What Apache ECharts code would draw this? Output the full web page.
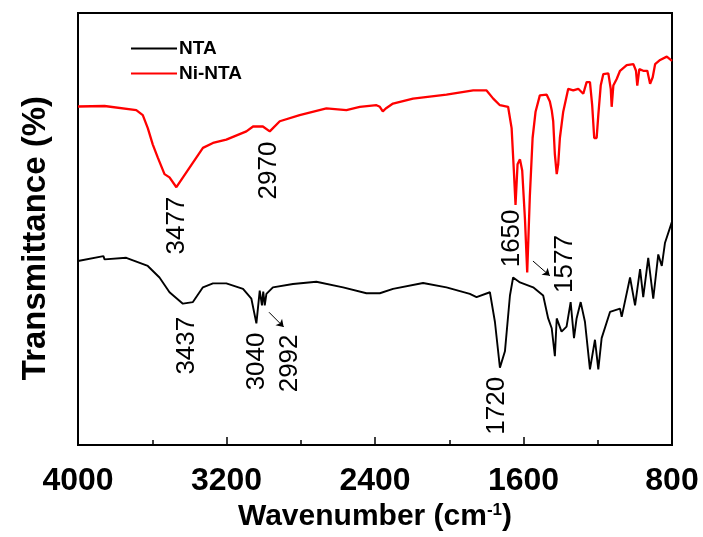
<!DOCTYPE html>
<html>
<head>
<meta charset="utf-8">
<script src="https://cdn.jsdelivr.net/npm/echarts@6/dist/echarts.min.js"></script>
<style>html,body{margin:0;padding:0;background:#fff}#c{width:703px;height:537px}</style>
</head>
<body>
<div id="c"></div>
<script>
// Wavenumber (cm-1) and transmittance (arbitrary units)
const ntaWn = [4000,3863,3857,3740,3624,3561,3507,3435,3381,3327,3273,3201,3111,3066,3039,3021,3009,3002,2994,2985,2950,2842,2716,2572,2446,2374,2303,2141,2015,1889,1853,1781,1754,1727,1700,1673,1656,1619,1548,1494,1467,1448,1431,1421,1395,1368,1346,1328,1314,1292,1269,1242,1215,1197,1179,1134,1080,1071,1026,999,972,955,928,901,874,855,838,800];
const ntaT  = [187,192,188.7,190.3,182,170.3,155.3,143.7,145.3,160.3,164.3,164.3,158.7,148.7,123.7,157,142,156,142,153.7,160.3,163.7,166,160.3,154.3,154.3,158.7,164.7,160.3,153.7,150.3,155.3,125.3,78.7,95.3,152,170.3,165.3,160.3,152,128.7,118.7,90.3,128.7,115.3,120.3,145.3,108.7,128.7,145.3,125.3,77,107,77,108.7,135.3,138.7,130.3,170.3,142,178.7,150.3,190.3,148.7,193.7,182,205.3,227];

const niWn = [4000,3857,3686,3651,3624,3597,3570,3534,3507,3470,3399,3327,3273,3201,3093,3057,3004,2967,2913,2806,2662,2554,2482,2392,2374,2358,2342,2303,2195,2015,1871,1799,1763,1727,1683,1664,1652,1643,1632,1619,1607,1592,1580,1566,1551,1535,1512,1475,1458,1448,1440,1431,1421,1413,1404,1386,1359,1332,1305,1296,1278,1260,1242,1230,1219,1206,1197,1184,1170,1143,1130,1125,1116,1098,1080,1044,1008,994,987,976,955,933,918,904,891,864,828,800];
const niT  = [344,344.5,340.3,335.3,322,305.3,292,275.3,272,262,282,302,307,310.3,318.7,323.7,323.7,318.7,329,335.3,342,340.3,343.7,345.3,343.7,339,342,347,352,356,360.3,360.3,352,345.3,343.7,322,279,244,285.3,290.3,279,229,175.3,252,312,338.7,355.3,356,349,340.3,329,295.3,275.3,285.3,312,338.7,362,360.3,362,363.7,357,368.7,368.7,345.3,312,312,335.3,365.3,377,377.7,362,343.7,365.3,372,380.3,386,387,380.3,365.3,382,380.3,380.3,367,373.7,387,391.3,394.7,390.3];

const seriesNames = ['NTA','Ni-NTA'];
const xTicks = [4000,3200,2400,1600,800];

// peak annotations: label, wavenumber, value position
const ntaLabels = ['3437','3040','2992','1720'];
const ntaLabelWn = [3415,3038,2860,1744];
const ntaLabelT = [101,85,83,40];
const niLabels = ['3477','2970','1650','1577'];
const niLabelWn = [3469,2973,1663,1377];
const niLabelT = [223,279,210,184];
// arrows: [fromWn, fromT, toWn, toT]
const ntaArrow = [2971,135,2892,120];
const niArrow = [1549,187,1458,172];

function zip(a,b){return a.map((v,i)=>[v,b[i]]);}
function marks(lbls,wn,t){
  return lbls.map((l,i)=>({coord:[wn[i],t[i]],value:l}));
}
function arrow(a){
  return [[{coord:[a[0],a[1]]},{coord:[a[2],a[3]]}]];
}
const annLabel = {show:true,formatter:'{c}',rotate:90,color:'#000',fontFamily:'Liberation Sans',fontSize:26,position:'inside'};

const chart = echarts.init(document.getElementById('c'));
chart.setOption({
  animation:false,
  backgroundColor:'#fff',
  grid:{left:78,right:31,top:13,bottom:85,show:true,borderColor:'#000',borderWidth:2},
  legend:{
    data:seriesNames,
    orient:'vertical',
    left:126, top:34,
    itemWidth:46, itemHeight:2, itemGap:6,
    icon:'rect',
    textStyle:{fontFamily:'Liberation Sans',fontWeight:'bold',fontSize:19,color:'#000',lineHeight:19,padding:[0,0,0,-3]}
  },
  xAxis:{
    type:'value', inverse:true, min:800, max:4000, interval:800,
    name:'{a|Wavenumber (cm}{s|-1}{a|)}',
    nameLocation:'middle', nameGap:51,
    nameTextStyle:{rich:{
      a:{fontFamily:'Liberation Sans',fontWeight:'bold',fontSize:30,color:'#000',verticalAlign:'bottom',lineHeight:30},
      s:{fontFamily:'Liberation Sans',fontWeight:'bold',fontSize:17,color:'#000',verticalAlign:'top',lineHeight:30,padding:[0,0,12,0]}
    }},
    axisLine:{show:true,lineStyle:{color:'#000',width:2}},
    axisTick:{show:true,inside:true,length:8,lineStyle:{color:'#000',width:1.5}},
    minorTick:{show:true,splitNumber:2,length:5,lineStyle:{color:'#000',width:1.5}},
    splitLine:{show:false},
    axisLabel:{color:'#000',fontFamily:'Liberation Sans',fontWeight:'bold',fontSize:32,margin:20,
      formatter:v=>xTicks.includes(v)?String(v):''}
  },
  yAxis:{
    type:'value', min:0, max:439,
    name:'Transmittance (%)', nameLocation:'middle', nameGap:26,
    nameTextStyle:{fontFamily:'Liberation Sans',fontWeight:'bold',fontSize:33,color:'#000',padding:[0,18,0,0]},
    axisLine:{show:true,lineStyle:{color:'#000',width:2}},
    axisTick:{show:false}, axisLabel:{show:false}, splitLine:{show:false}
  },
  series:[
    {name:'NTA',type:'line',data:zip(ntaWn,ntaT),showSymbol:false,symbol:'none',
     lineStyle:{color:'#000',width:1.9},itemStyle:{color:'#000'},
     markPoint:{symbol:'circle',symbolSize:1,itemStyle:{color:'rgba(0,0,0,0)'},label:annLabel,data:marks(ntaLabels,ntaLabelWn,ntaLabelT)},
     markLine:{silent:true,symbol:['none','arrow'],symbolSize:7,label:{show:false},lineStyle:{color:'#000',width:1,type:'solid'},data:arrow(ntaArrow)}
    },
    {name:'Ni-NTA',type:'line',data:zip(niWn,niT),showSymbol:false,symbol:'none',
     lineStyle:{color:'#ff0000',width:2.3},itemStyle:{color:'#ff0000'},
     markPoint:{symbol:'circle',symbolSize:1,itemStyle:{color:'rgba(0,0,0,0)'},label:annLabel,data:marks(niLabels,niLabelWn,niLabelT)},
     markLine:{silent:true,symbol:['none','arrow'],symbolSize:7,label:{show:false},lineStyle:{color:'#000',width:1,type:'solid'},data:arrow(niArrow)}
    }
  ]
});
</script>
</body>
</html>
